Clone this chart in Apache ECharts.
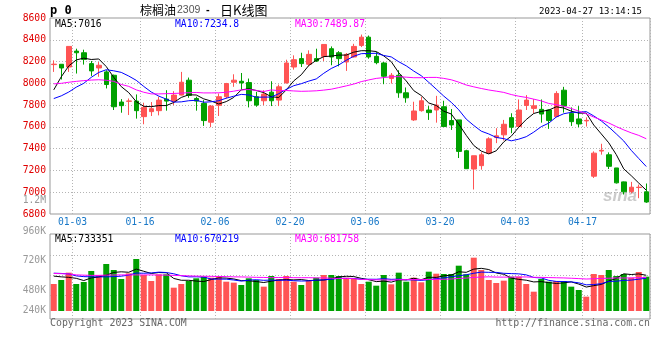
<!DOCTYPE html>
<html><head><meta charset="utf-8">
<script src="https://cdn.jsdelivr.net/npm/echarts@6/dist/echarts.min.js"></script>
<style>html,body{margin:0;padding:0;background:#fff}#c{width:660px;height:360px}</style>
</head><body><div id="c"></div>
<script>
// ---- data ----
const dates = ['12-28','12-29','12-30',
'01-03','01-04','01-05','01-06','01-09','01-10','01-11','01-12','01-13','01-16','01-17','01-18','01-19','01-20','01-30','01-31',
'02-01','02-02','02-03','02-06','02-07','02-08','02-09','02-10','02-13','02-14','02-15','02-16','02-17','02-20','02-21','02-22','02-23','02-24','02-27','02-28',
'03-01','03-02','03-03','03-06','03-07','03-08','03-09','03-10','03-13','03-14','03-15','03-16','03-17','03-20','03-21','03-22','03-23','03-24','03-27','03-28','03-29','03-30','03-31',
'04-03','04-04','04-06','04-07','04-10','04-11','04-12','04-13','04-14','04-17','04-18','04-19','04-20','04-21','04-24','04-25','04-26','04-27'];
const labelDates = ['01-03','01-16','02-06','02-20','03-06','03-20','04-03','04-17'];

const opens = [8172,8175,8150,8296,8281,8181,8141,8105,8074,7828,
7835,7837,7694,7740,7749,7855,7837,7892,8029,7861,
7816,7643,7798,7877,8010,8019,8007,7877,7840,7919,
7846,8004,8150,8227,8175,8227,8248,8318,8281,8196,
8242,8348,8424,8248,8187,8044,8074,7913,7664,7749,
7755,7755,7785,7658,7664,7381,7213,7244,7359,7502,
7527,7685,7603,7797,7770,7761,7755,7694,7937,7724,
7673,7655,7147,7378,7344,7223,7095,7006,7043,7004];
const closes = [8176,8141,8339,8281,8220,8114,8166,7989,7785,7795,
7838,7749,7779,7767,7846,7837,7892,8010,7889,7837,
7658,7791,7877,7998,8029,8004,7840,7800,7901,7840,
7968,8187,8217,8181,8266,8205,8357,8242,8227,8266,
8339,8424,8242,8190,8065,8074,7913,7867,7746,7840,
7731,7800,7603,7618,7375,7216,7335,7344,7490,7518,
7624,7597,7755,7846,7794,7718,7658,7907,7791,7648,
7627,7660,7359,7385,7238,7086,7004,7046,7046,6910];
const lows = [8105,8035,8105,8090,8172,8068,8060,7953,7755,7730,
7709,7676,7624,7700,7706,7749,7800,7889,7867,7749,
7609,7597,7700,7861,7968,7943,7779,7785,7800,7791,
7791,7998,8126,8150,8156,8196,8205,8166,8156,8114,
8236,8333,8226,8175,7992,7998,7867,7822,7655,7740,
7664,7639,7603,7572,7314,7213,7025,7207,7353,7451,
7475,7542,7603,7755,7724,7639,7582,7688,7731,7609,
7597,7603,7131,7345,7213,7080,6979,6990,6945,6903];
const highs = [8211,8175,8339,8318,8309,8205,8196,8120,8080,7855,
7861,7898,7822,7828,7877,7937,7928,8105,8053,7877,
7846,7801,7907,8004,8083,8095,8044,7922,7937,8019,
7989,8217,8257,8281,8303,8318,8357,8339,8296,8278,
8363,8448,8439,8287,8196,8095,8120,7962,7831,7877,
7791,7885,7840,7764,7664,7390,7335,7366,7505,7588,
7664,7725,7852,7892,7855,7852,7761,7928,7968,7779,
7791,7688,7375,7445,7366,7223,7098,7095,7070,7080];
const volumes = [553000,636000,786000,553000,594000,820000,738000,963000,840000,656000,
772000,1066000,738000,615000,752000,752000,478000,553000,615000,670000,
704000,683000,717000,601000,581000,533000,670000,636000,499000,717000,
656000,717000,601000,533000,615000,683000,738000,738000,717000,683000,
656000,553000,601000,519000,738000,547000,786000,601000,683000,588000,
806000,765000,759000,759000,929000,752000,1093000,840000,636000,574000,
622000,704000,704000,553000,396000,656000,601000,615000,615000,499000,
431000,294000,759000,738000,840000,717000,759000,683000,800000,704000];

const ma5Head = [7940,8060,8160,8215];
const ma10Head = [7860,7885,7920,7965,8000,8055,8100,8125,8115];
const ma30Head = [7995,8000,8010,8018,8025,8030,8033,8028,8018,7990,7972,7940,7918,7903,7903,7905,7907,7910,7914,7916,7912,7912,7913,7918,7928,7940,7943,7935,7925];
const volMa5Head = [715000,700000,690000,670000];
const volMa10Head = [775000,770000,760000,720000,705000,700000,700000,700000,705000];
const volMa30Head = [770000,765000,760000,740000,735000,730000,730000,735000,738000,740000,740000,740000,740000,740000,738000,735000,730000,725000,720000,715000,712000,710000,708000,705000,700000,698000,695000,690000,688000];

const priceMin = 6800, priceMax = 8600, priceStep = 200;
const headerTexts = ['MA5:7016','MA10:7234.8','MA30:7489.87'];
const volHeaderTexts = ['MA5:733351','MA10:670219','MA30:681758'];
const volTickLabels = ['960K','720K','480K','240K'];
const extraTickLabel = '1.2M';
const titleName = '棕榈油', titleCode = '2309', titleTail = '日K线图';
const symbolText = 'p 0';
const stamp = '2023-04-27 13:14:15';
const copyright = 'Copyright 2023 SINA.COM';
const url = 'http://finance.sina.com.cn';

// ---- layout / style ----
const RED = '#ff5454', GREEN = '#00a000';
const MA_COLORS = ['#000000','#0000ff','#ff00ff'];
const MONO = '"DejaVu Sans Mono", "Liberation Mono", monospace';
const GRID_LINE = {color:'#b4b4b4', type:[1,2], width:1};
const volLabelY = [231, 260.7, 290.7, 310];
const volGridPx = [56, 36, 16];     // dotted rows, px above the volume baseline
const VOL_PER_PX = 20500;

function movingAvg(vals, n, head) {
  return vals.map((v, i) => {
    if (i < n - 1) return head[i];
    let s = 0; for (let k = i - n + 1; k <= i; k++) s += vals[k];
    return +(s / n).toFixed(2);
  });
}

const labelSet = new Set(labelDates);
const showIdx = (i) => labelSet.has(dates[i]);

const kData = opens.map((o, i) => [o, closes[i], lows[i], highs[i]]);
const volData = volumes.map((v, i) => ({value: v, itemStyle: {color: closes[i] >= opens[i] ? RED : GREEN}}));

const chart = echarts.init(document.getElementById('c'), null, {renderer: 'canvas'});

function txt(x, y, text, fill, font, align) {
  return {type:'text', x, y, silent:true, z:100,
    style:{text, fill, font, align: align || 'left', verticalAlign:'middle'}};
}

const graphics = [
  txt(50, 11, symbolText, '#000', 'bold 12px ' + MONO),
  txt(140, 10, titleName, '#000', '12px "Noto Sans CJK SC"'),
  txt(177, 10, titleCode, '#555', '10.5px "Liberation Sans"'),
  txt(206, 10, '-', '#000', 'bold 11px "Liberation Sans"'),
  txt(220, 10, titleTail, '#000', '13px "Noto Sans CJK SC"'),
  txt(642, 11.5, stamp, '#000', '9px ' + MONO, 'right'),
  txt(55, 24, headerTexts[0], MA_COLORS[0], '9.7px ' + MONO),
  txt(175, 24, headerTexts[1], MA_COLORS[1], '9.7px ' + MONO),
  txt(295, 24, headerTexts[2], MA_COLORS[2], '9.7px ' + MONO),
  txt(55, 239, volHeaderTexts[0], MA_COLORS[0], '9.7px ' + MONO),
  txt(175, 239, volHeaderTexts[1], MA_COLORS[1], '9.7px ' + MONO),
  txt(295, 239, volHeaderTexts[2], MA_COLORS[2], '9.7px ' + MONO),
  txt(46, 200.7, extraTickLabel, '#999', '9.7px ' + MONO, 'right'),
  txt(50, 323.5, copyright, '#666', '9.9px ' + MONO),
  txt(650, 323.5, url, '#666', '9.9px ' + MONO, 'right'),
  {type:'text', x:603, y:196, silent:true, z:1,
   style:{text:'sina', fill:'rgba(140,140,140,0.45)', font:'italic bold 17px "Liberation Sans"', verticalAlign:'middle'}}
];
volTickLabels.forEach((t, k) => graphics.push(txt(46, volLabelY[k], t, '#999', '9.7px ' + MONO, 'right')));

const maLine = (name, data, color, xi, yi) => ({
  name, type:'line', data, xAxisIndex:xi, yAxisIndex:yi, symbol:'none', smooth:false,
  lineStyle:{color, width:1}, itemStyle:{color}, z:5, silent:true
});

const option = {
  animation:false,
  backgroundColor:'#fff',
  grid:[
    {left:50, right:10, top:18, height:196, show:true, borderColor:'#999', borderWidth:1, backgroundColor:'transparent'},
    {left:50, right:10, top:234, height:85, show:true, borderColor:'#999', borderWidth:1, backgroundColor:'transparent'}
  ],
  xAxis:[
    {type:'category', gridIndex:0, data:dates, boundaryGap:true,
     axisLine:{show:false}, axisTick:{show:false},
     axisLabel:{interval:(i)=>showIdx(i), color:'#1878c8', fontFamily:MONO, fontSize:9.7, margin:3, padding:[0,7.5,0,0]},
     splitLine:{show:true, interval:(i)=>showIdx(i), lineStyle:GRID_LINE}},
    {type:'category', gridIndex:1, data:dates, boundaryGap:true,
     axisLine:{show:false}, axisTick:{show:false}, axisLabel:{show:false},
     splitLine:{show:true, interval:(i)=>showIdx(i), lineStyle:GRID_LINE}}
  ],
  yAxis:[
    {type:'value', gridIndex:0, min:priceMin, max:priceMax, interval:priceStep,
     axisLine:{show:false}, axisTick:{show:false},
     axisLabel:{color:'#e00000', fontFamily:MONO, fontSize:9.7, margin:4, padding:[0,0,4,0], formatter:(v)=>String(v)},
     splitLine:{show:true, showMinLine:false, showMaxLine:false, lineStyle:GRID_LINE}},
    {type:'value', gridIndex:1, min:-8*VOL_PER_PX, max:77*VOL_PER_PX,
     axisLine:{show:false}, axisTick:{show:false}, axisLabel:{show:false}, splitLine:{show:false}}
  ],
  graphic: graphics,
  series:[
    {type:'candlestick', name:'k', xAxisIndex:0, yAxisIndex:0, data:kData, barWidth:5,
     itemStyle:{color:RED, color0:GREEN, borderColor:RED, borderColor0:GREEN, borderWidth:1}, z:3, silent:true},
    maLine('MA5', movingAvg(closes, 5, ma5Head), MA_COLORS[0], 0, 0),
    maLine('MA10', movingAvg(closes, 10, ma10Head), MA_COLORS[1], 0, 0),
    maLine('MA30', movingAvg(closes, 30, ma30Head), MA_COLORS[2], 0, 0),
    {type:'bar', name:'vol', xAxisIndex:1, yAxisIndex:1, data:volData, barWidth:6, z:3, silent:true,
     markLine:{silent:true, symbol:'none', label:{show:false}, lineStyle:GRID_LINE, z:1,
       data: volGridPx.map(p => ({yAxis: p * VOL_PER_PX}))}},
    maLine('VMA5', movingAvg(volumes, 5, volMa5Head), MA_COLORS[0], 1, 1),
    maLine('VMA10', movingAvg(volumes, 10, volMa10Head), MA_COLORS[1], 1, 1),
    maLine('VMA30', movingAvg(volumes, 30, volMa30Head), MA_COLORS[2], 1, 1)
  ]
};
chart.setOption(option);
</script></body></html>
